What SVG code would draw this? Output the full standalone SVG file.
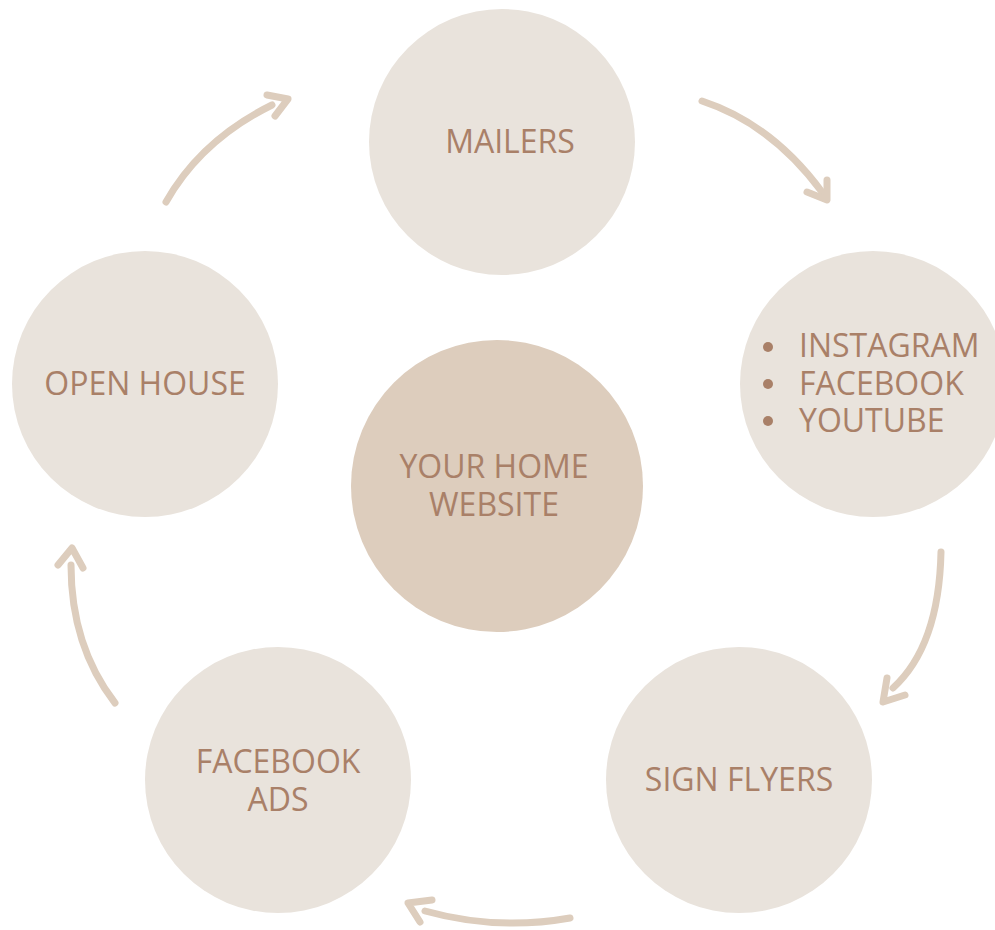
<svg xmlns="http://www.w3.org/2000/svg" width="995" height="930" viewBox="0 0 995 930">
  <style>
    .node { fill: #E9E3DC; }
    .hub { fill: #DDCDBD; }
    .label { font-family: "Open Sans", "Noto Sans", "DejaVu Sans", sans-serif; font-size: 32px; fill: #A98068; text-anchor: middle; }
    .list { font-family: "Open Sans", "Noto Sans", "DejaVu Sans", sans-serif; font-size: 32px; fill: #A98068; }
    .bullet { fill: #A98068; }
    .arrow { fill: none; stroke: #DDCDBD; stroke-width: 7; stroke-linecap: round; stroke-linejoin: round; }
  </style>
  <rect width="995" height="930" fill="#FFFFFF"/>

  <g id="connectors">
    <!-- open house -> mailers -->
    <path class="arrow" d="M166,202 Q201,140 272,105"/>
    <polyline class="arrow" points="267,95 288,99 275,116"/>
    <!-- mailers -> social -->
    <path class="arrow" d="M702,101 Q772,124 822,192"/>
    <polyline class="arrow" points="807,192 827,200 827,180"/>
    <!-- social -> sign flyers -->
    <path class="arrow" d="M941,552 Q939,646 893,688"/>
    <polyline class="arrow" points="887,678 883,702 905,695"/>
    <!-- sign flyers -> facebook ads -->
    <path class="arrow" d="M570,918 Q497,931 425,911"/>
    <polyline class="arrow" points="432,900 408,903 420,922"/>
    <!-- facebook ads -> open house -->
    <path class="arrow" d="M115,703 Q71,646 71,565"/>
    <polyline class="arrow" points="58,565 72,548 83,568"/>
  </g>

  <g id="mailers">
    <circle class="node" cx="502" cy="142" r="133"/>
    <text class="label" x="510" y="153">MAILERS</text>
  </g>

  <g id="social">
    <circle class="node" cx="873" cy="384" r="133"/>
    <circle class="bullet" cx="768" cy="347" r="5"/>
    <circle class="bullet" cx="768" cy="384" r="5"/>
    <circle class="bullet" cx="768" cy="421" r="5"/>
    <text class="list" x="799" y="357">INSTAGRAM</text>
    <text class="list" x="799" y="395">FACEBOOK</text>
    <text class="list" x="799" y="432">YOUTUBE</text>
  </g>

  <g id="sign-flyers">
    <circle class="node" cx="739" cy="780" r="133"/>
    <text class="label" x="739" y="791">SIGN FLYERS</text>
  </g>

  <g id="facebook-ads">
    <circle class="node" cx="278" cy="780" r="133"/>
    <text class="label" x="278" y="773">FACEBOOK</text>
    <text class="label" x="278" y="811">ADS</text>
  </g>

  <g id="open-house">
    <circle class="node" cx="145" cy="384" r="133"/>
    <text class="label" x="145" y="395">OPEN HOUSE</text>
  </g>

  <g id="home-website">
    <circle class="hub" cx="497" cy="486" r="146"/>
    <text class="label" x="494" y="478">YOUR HOME</text>
    <text class="label" x="494" y="516">WEBSITE</text>
  </g>
</svg>
